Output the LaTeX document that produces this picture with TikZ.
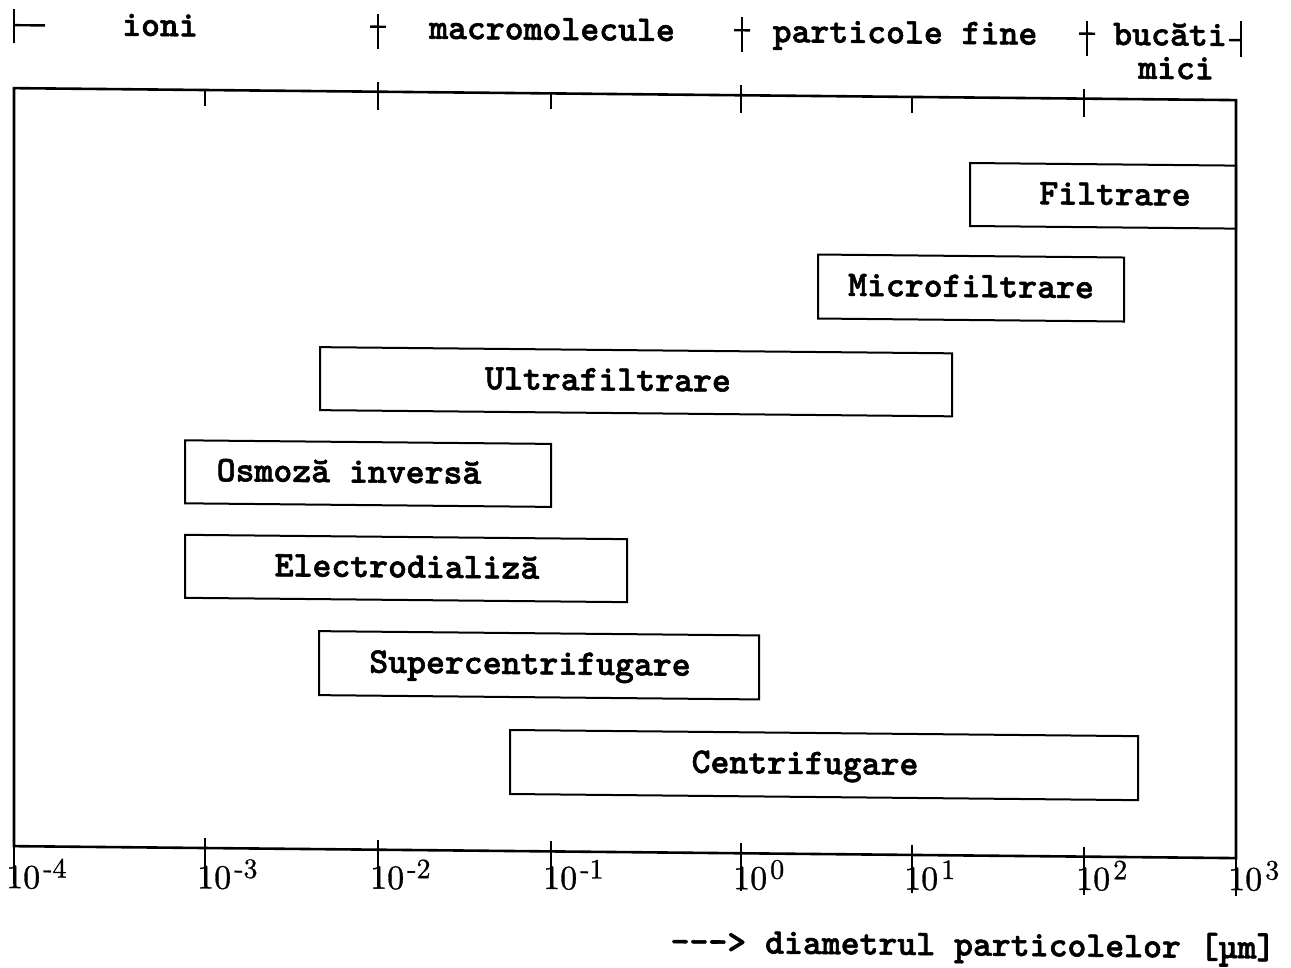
\documentclass[tikz,border=0pt]{standalone}
\usepackage{fontspec}
\newfontfamily\typebold[FakeBold=1.6]{lmmonolt10-bold.otf}
\newfontfamily\digitfont[FakeBold=0.9]{lmroman10-regular.otf}
\tikzset{
  frameline/.style={line width=2.6pt, line cap=round},
  tickline/.style={line width=2.4pt},
  boxline/.style={draw, line width=2pt, inner sep=0pt},
  tt/.style={font=\typebold\fontsize{36}{36}\selectfont, inner sep=0pt, anchor=base},
  declabel/.style={font=\digitfont\fontsize{34}{34}\selectfont, inner sep=0pt, anchor=base west},
}
% a process box given by its corners: name, x1, y1, x2, y2
\newcommand\procbox[5]{%
  \node[boxline, minimum width={(#4-#2)*1pt}, minimum height={(#5-#3)*1pt}]
    (#1) at ({(#2+#4)/2},{(#3+#5)/2}) {};}
\newcommand\decade[1]{10\raisebox{11pt}{\fontsize{28}{28}\selectfont\hspace{3pt}#1}}
\begin{document}
\begin{tikzpicture}[x=1pt,y=-1pt]
\useasboundingbox (0,0) rectangle (1291,967);
\begin{scope}[yslant=-0.0098, transform shape]
  % decade positions
  \foreach \n/\x in {0/14,1/205,2/378,3/551,4/741,5/912,6/1084,7/1236}{
    \coordinate (t\n) at (\x,88);
    \coordinate (b\n) at (\x,846);
  }
  % frame
  \draw[frameline] (t0) -- (t7) -- (b7) -- (b0) -- cycle;
  % top axis ticks
  \foreach \n in {1,3,5}{ \draw[tickline] (t\n) -- ++(0,16); }
  \foreach \n in {2,4,6}{ \draw[tickline] (t\n) ++(0,-10) -- ++(0,28); }
  % bottom axis ticks
  \foreach \n in {0,...,7}{ \draw[tickline] (b\n) ++(0,-10) -- ++(0,48); }
  % bottom axis labels
  \node[declabel] (l0) at (6,888) {\decade{-4}};
  \node[declabel] (l1) at (197,886.4) {\decade{-3}};
  \node[declabel] (l2) at (370,885) {\decade{-2}};
  \node[declabel] (l3) at (543,883.6) {\decade{-1}};
  \node[declabel] (l4) at (733,882) {\decade{0}};
  \node[declabel] (l5) at (904,880.7) {\decade{1}};
  \node[declabel] (l6) at (1076,879.3) {\decade{2}};
  \node[declabel] (l7) at (1228,878) {\decade{3}};
  \node[tt] (cap) at (973,946) {---> diametrul particolelor [µm]};

  % size ranges along the top
  \coordinate (r0) at (14,25);
  \coordinate (r1) at (378,23);
  \coordinate (r2) at (742,23);
  \coordinate (r3) at (1087,23);
  \coordinate (r4) at (1241,28);
  \draw[tickline] (r0) ++(0,-16) -- ++(0,34);
  \draw[tickline] (r0) -- ++(31,0);
  \foreach \n in {1,2,3}{
    \draw[tickline] (r\n) ++(0,-13) -- ++(0,35);
    \draw[tickline] (r\n) ++(-8,0) -- ++(16,0);
  }
  \draw[tickline] (r4) ++(0,-19) -- ++(0,36);
  \draw[tickline] (r4) -- ++(-12,0);
  \node[tt] (ioni) at (160,34.5) {ioni};
  \node[tt] (macro) at (552,34.5) {macromolecule};
  \node[tt] (fine) at (905,34.5) {particole fine};
  \node[tt] (buc) at (1170,34) {bucăti};
  \node[tt] (mici) at (1176,67.5) {mici};

  % separation processes
  \procbox{filt}{970}{153.5}{1236}{216.5}
  \procbox{micro}{818}{246.5}{1124}{310.5}
  \procbox{ultra}{320}{344}{952}{407}
  \procbox{osmo}{185}{438.5}{551}{501.5}
  \procbox{elec}{185}{533}{627}{596}
  \procbox{super}{319}{628}{759}{692}
  \procbox{centr}{510}{725}{1138}{789}
  \node[tt] (filtT) at (1115,194) {Filtrare};
  \node[tt] (microT) at (971,287.5) {Microfiltrare};
  \node[tt] (ultraT) at (608,384.5) {Ultrafiltrare};
  \node[tt] (osmoT) at (349,479) {Osmoză inversă};
  \node[tt] (elecT) at (407,573.5) {Electrodializă};
  \node[tt] (superT) at (530,669) {Supercentrifugare};
  \node[tt] (centrT) at (805,766) {Centrifugare};
\end{scope}
\end{tikzpicture}
\end{document}
